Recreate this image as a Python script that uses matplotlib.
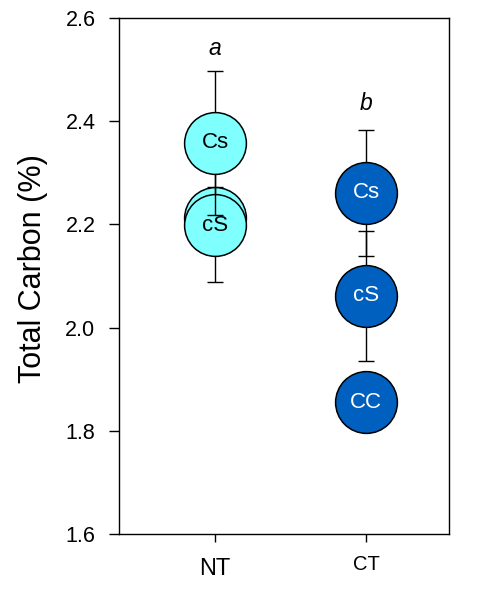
import matplotlib
matplotlib.use("Agg")
import matplotlib.pyplot as plt

plt.rcParams['font.family'] = ['Liberation Sans', 'DejaVu Sans']

# tillage systems on the x axis
tillage = ["NT", "CT"]
# rotation labels, drawn back to front
rotations = ["CC", "cS", "Cs"]
# mean total carbon (%) per rotation, one value per tillage system
means = {
    "CC": [2.213, 1.855],
    "cS": [2.198, 2.062],
    "Cs": [2.358, 2.261],
}
# standard errors
errors = {
    "CC": [0.06, 0.05],
    "cS": [0.110, 0.126],
    "Cs": [0.140, 0.123],
}
fill_colors = ["#80FFFF", "#0060C0"]
text_colors = ["black", "white"]
# significance letters and their heights
letters = ["a", "b"]
letter_y = [2.528, 2.422]

fig = plt.figure(figsize=(4.82, 5.93), dpi=100)
ax = fig.add_axes([0.247, 0.0995, 0.685, 0.870])

xpos = [1, 2]
for k, rot in enumerate(rotations):
    z = 3 + k
    for i, x in enumerate(xpos):
        y = means[rot][i]
        ax.errorbar(x, y, yerr=errors[rot][i], fmt='none', ecolor='black',
                    elinewidth=1.0, capsize=6, capthick=1.0, zorder=z)
        ax.plot(x, y, 'o', ms=44.5, mfc=fill_colors[i], mec='black',
                mew=1.1, zorder=z + 0.5)
        ax.text(x, y, rot, ha='center', va='center', fontsize=16,
                color=text_colors[i], zorder=z + 0.6)

for x, lab, ly in zip(xpos, letters, letter_y):
    ax.text(x, ly, lab, ha='center', va='baseline', fontsize=16.5,
            style='italic')

ax.set_xlim(0.364, 2.55)
ax.set_ylim(1.6, 2.6)
ax.set_yticks([1.6, 1.8, 2.0, 2.2, 2.4, 2.6])
ax.set_yticklabels(["1.6", "1.8", "2.0", "2.2", "2.4", "2.6"])
ax.set_xticks(xpos)
ax.set_xticklabels([])
ax.tick_params(axis='y', labelsize=15.5, length=7, width=1.0, direction='out', pad=10)
ax.tick_params(axis='x', length=6, width=1.0, direction='out')

# x category labels (NT set a touch larger and lower than CT)
xlab_size = [17, 14.5]
xlab_off = [-0.046, -0.040]
for x, lab, fs, off in zip(xpos, tillage, xlab_size, xlab_off):
    ax.text(x, off, lab, transform=ax.get_xaxis_transform(), ha='center',
            va='top', fontsize=fs)

for s in ax.spines.values():
    s.set_linewidth(1.0)
ax.set_ylabel("Total Carbon (%)", fontsize=22)
ax.yaxis.set_label_coords(-0.215, 0.515)

fig.savefig("out.png", dpi=100)
